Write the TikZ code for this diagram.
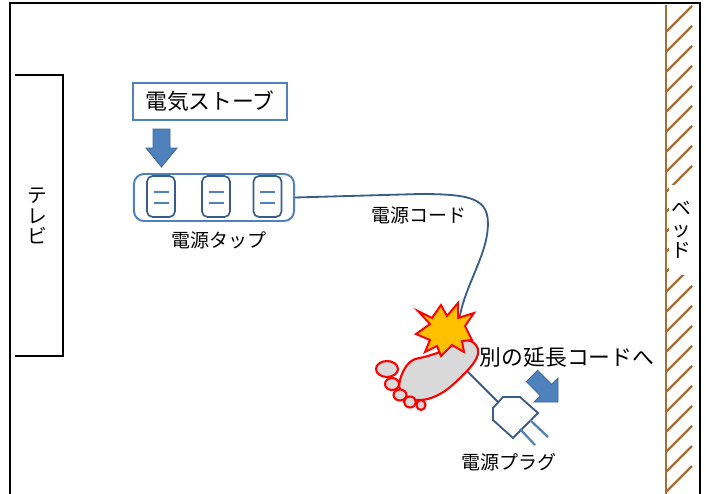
\documentclass[tikz,border=0pt]{standalone}
\usepackage{fontspec}
\setmainfont{Noto Sans CJK JP}
\definecolor{officeblue}{RGB}{79,129,189}
\definecolor{cordblue}{RGB}{56,93,138}
\definecolor{bedbrown}{RGB}{166,109,52}
\definecolor{boomyellow}{RGB}{255,192,0}
\definecolor{footgray}{RGB}{217,217,217}

\begin{document}
\begin{tikzpicture}[x=0.025cm, y=-0.025cm,
    smalltext/.style={inner sep=0pt, font=\fontsize{13.5}{15}\selectfont},
    bigtext/.style={inner sep=0pt, font=\fontsize{15.5}{18}\selectfont},
    socket/.style={draw=cordblue, line width=1.2pt, rounded corners=4pt, minimum width=0.7cm, minimum height=1.025cm},
    slot/.style={officeblue, line width=1.5pt},
    fatarrow/.style={fill=officeblue, draw=officeblue!80!black, line width=0.6pt},
    cord/.style={cordblue, line width=1.3pt},
    foot/.style={fill=footgray, draw=red, line width=1.5pt},
    hatch/.style={bedbrown, line width=1.6pt},
    ]
    \useasboundingbox (0,0) rectangle (706,494);

    \draw[line width=1.5pt] (10,494) -- (10,3) -- (700,3) -- (700,494);

    \draw[line width=2pt] (15,75) -- (63,75) -- (63,356) -- (15,356);
    \node[smalltext, align=center, font=\fontsize{14}{14.5}\selectfont] (tv) at (37,216) {テ\\レ\\ビ};

    \foreach \y in {32,52,...,492}
        \draw[hatch] (666,\y) -- (692,{\y-26});
    \node[smalltext, fill=white, align=center, font=\fontsize{14}{15}\selectfont, minimum width=0.6cm, minimum height=2.25cm] (bed) at (681,230) {ベ\\ッ\\ド};
    \draw[bedbrown, line width=2pt] (666,5) -- (666,494);

    \node[bigtext, draw=officeblue, line width=1.4pt, minimum width=3.85cm, minimum height=0.925cm] (heater) at (210,101.5) {電気ストーブ};
    \draw[fatarrow] (153,129) -- (170,129) -- (170,148) -- (177,148) -- (161.5,167) -- (146,148) -- (153,148) -- cycle;

    \node[draw=officeblue, line width=1.4pt, rounded corners=0.25cm, minimum width=4cm, minimum height=1.175cm] (strip) at (214,197.5) {};
    \foreach \i/\x in {1/161,2/216,3/267.5} {
        \node[socket] (socket\i) at (\x,196.5) {};
        \draw[slot] ({\x-7.5},192) -- ({\x+7.5},192) ({\x-7.5},203) -- ({\x+7.5},203);
    }
    \node[smalltext] (striplabel) at (219,240) {電源タップ};

    \coordinate (plugin) at (498,402);
    \draw[cord] (strip.east) -- (420,194) .. controls (478,194) and (492,200) .. (487,235)
        .. controls (482,265) and (460,295) .. (458,330) .. controls (457,350) and (460,362) .. (466,370) -- (plugin);
    \node[smalltext] (cordlabel) at (419,215) {電源コード};

    \draw[cordblue, line width=1.3pt, fill=white] (503,397) -- (520,397) -- (538,413) -- (513,438) -- (493,420) -- (493,408) -- cycle;
    \draw[slot, line width=1.6pt] (530,420) -- (548,437) (520,429) -- (535,445);
    \node[smalltext] (pluglabel) at (509,462) {電源プラグ};

    \draw[foot] plot[smooth cycle, tension=0.7] coordinates {(400,380) (410,362) (428,356) (445,350) (460,341) (474,343) (477,357) (460,378) (438,395) (416,400) (402,392)};
    \draw[foot] (387,369) ellipse [x radius=11, y radius=8];
    \draw[foot] (392,384) ellipse [x radius=7, y radius=6];
    \draw[foot] (400,395) ellipse [x radius=6.5, y radius=5.5];
    \draw[foot] (410,402) ellipse [x radius=6, y radius=5.5];
    \draw[foot] (421,405) ellipse [x radius=4.5, y radius=5];

    \draw[fill=boomyellow, draw=red, line width=1.4pt] (418,311) -- (432,318) -- (441,305) -- (447,316) -- (458,303) -- (458,318)
        -- (474,313) -- (465,326) -- (472,340) -- (462,341) -- (464,352) -- (452,345) -- (441,356) -- (437,346)
        -- (425,352) -- (430,340) -- (416,334) -- (430,324) -- cycle;

    \node[bigtext] (extlabel) at (567,357) {別の延長コードへ};
    \draw[fatarrow] (537.7,370.3) -- (551.7,384.3) -- (558,378) -- (558,402) -- (534,402) -- (540.3,395.7) -- (526.3,381.7) -- cycle;
\end{tikzpicture}
\end{document}
